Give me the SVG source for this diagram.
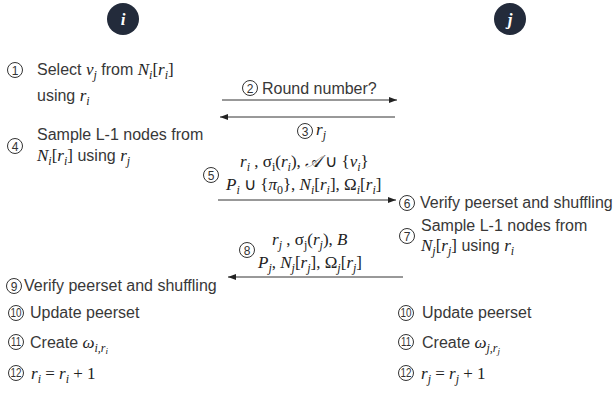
<svg xmlns="http://www.w3.org/2000/svg" width="613" height="394" viewBox="0 0 613 394">
<style>
.t{font-family:"Liberation Sans",Arial,sans-serif;font-size:16px;fill:#383838}
.m{font-family:"Liberation Serif","Times New Roman",serif;font-size:17px;fill:#222}
.mi{font-style:italic}
.s{font-size:12px}
.nc{fill:none;stroke:#333;stroke-width:1}
.nd{font-family:"Liberation Sans",Arial,sans-serif;font-size:12px;fill:#333;text-anchor:middle}
.ln{stroke:#333;stroke-width:1;fill:none}
.actor{fill:#232b3b}
.al{font-family:"Liberation Serif",serif;font-style:italic;font-weight:bold;font-size:17px;fill:#fff;text-anchor:middle}
</style>
<defs>
<marker id="ah" viewBox="0 0 8 6" refX="8" refY="3" markerWidth="8" markerHeight="6" markerUnits="userSpaceOnUse" orient="auto">
<path d="M0,0 L8,3 L0,6 z" fill="#222"/>
</marker>
<g id="num"><circle r="7.5" class="nc"/></g>
</defs>
<rect width="613" height="394" fill="#fff"/>

<g id="actor-i"><circle cx="123" cy="19" r="16" class="actor"/><text x="123" y="25" class="al">i</text></g>
<g id="actor-j"><circle cx="510" cy="19" r="16" class="actor"/><text x="510" y="25" class="al">j</text></g>

<g id="connectors">
<line x1="222" y1="100" x2="397" y2="100" class="ln" stroke="#666" marker-end="url(#ah)"/>
<line x1="395" y1="117" x2="220" y2="117" class="ln" marker-end="url(#ah)"/>
<line x1="218" y1="200" x2="396" y2="200" class="ln" marker-end="url(#ah)"/>
<line x1="403" y1="277" x2="228" y2="277" class="ln" marker-end="url(#ah)"/>
</g>

<g id="step1">
<use href="#num" x="15" y="70"/><text x="15" y="74.5" class="nd">1</text>
<text x="37" y="75" class="t">Select <tspan class="m mi">v<tspan class="s" dy="4">j</tspan></tspan><tspan dy="-4"> from </tspan><tspan class="m mi">N<tspan class="s" dy="4">i</tspan><tspan dy="-4" font-style="normal">[</tspan>r<tspan class="s" dy="4">i</tspan><tspan dy="-4" font-style="normal">]</tspan></tspan></text>
<text x="37" y="101" class="t">using <tspan class="m mi">r<tspan class="s" dy="4">i</tspan></tspan></text>
</g>

<g id="step2">
<use href="#num" x="250" y="88"/><text x="250" y="92.5" class="nd">2</text>
<text x="262" y="94" class="t">Round number?</text>
</g>

<g id="step3">
<use href="#num" x="305" y="131"/><text x="305" y="135.5" class="nd">3</text>
<text x="316" y="135" class="m mi">r<tspan class="s" dy="4">j</tspan></text>
</g>

<g id="step4">
<use href="#num" x="15" y="146"/><text x="15" y="150.5" class="nd">4</text>
<text x="37" y="140" class="t">Sample L-1 nodes from</text>
<text x="37" y="161" class="t"><tspan class="m mi">N<tspan class="s" dy="4">i</tspan><tspan dy="-4" font-style="normal">[</tspan>r<tspan class="s" dy="4">i</tspan><tspan dy="-4" font-style="normal">]</tspan></tspan> using <tspan class="m mi">r<tspan class="s" dy="4">j</tspan></tspan></text>
</g>

<g id="step5">
<use href="#num" x="211" y="175"/><text x="211" y="179.5" class="nd">5</text>
<text x="240" y="167" class="m"><tspan class="mi">r</tspan><tspan class="s mi" dy="4">i</tspan><tspan dy="-4"> , σ</tspan><tspan class="s" dy="4">i</tspan><tspan dy="-4">(</tspan><tspan class="mi">r</tspan><tspan class="s mi" dy="4">i</tspan><tspan dy="-4">), </tspan><tspan class="mi">𝒜</tspan> ∪ {<tspan class="mi">v</tspan><tspan class="s mi" dy="4">i</tspan><tspan dy="-4">}</tspan></text>
<text x="226" y="190" class="m"><tspan class="mi">P</tspan><tspan class="s mi" dy="4">i</tspan><tspan dy="-4"> ∪ {</tspan><tspan class="mi">π</tspan><tspan class="s" dy="4">0</tspan><tspan dy="-4">}, </tspan><tspan class="mi">N</tspan><tspan class="s mi" dy="4">i</tspan><tspan dy="-4">[</tspan><tspan class="mi">r</tspan><tspan class="s mi" dy="4">i</tspan><tspan dy="-4">], Ω</tspan><tspan class="s mi" dy="4">i</tspan><tspan dy="-4">[</tspan><tspan class="mi">r</tspan><tspan class="s mi" dy="4">i</tspan><tspan dy="-4">]</tspan></text>
</g>

<g id="step6">
<use href="#num" x="407" y="203"/><text x="407" y="207.5" class="nd">6</text>
<text x="420" y="208" class="t">Verify peerset and shuffling</text>
</g>

<g id="step7">
<use href="#num" x="407" y="236"/><text x="407" y="240.5" class="nd">7</text>
<text x="421" y="231" class="t">Sample L-1 nodes from</text>
<text x="421" y="251" class="t"><tspan class="m mi">N<tspan class="s" dy="4">j</tspan><tspan dy="-4" font-style="normal">[</tspan>r<tspan class="s" dy="4">j</tspan><tspan dy="-4" font-style="normal">]</tspan></tspan> using <tspan class="m mi">r<tspan class="s" dy="4">i</tspan></tspan></text>
</g>

<g id="step8">
<use href="#num" x="247" y="250"/><text x="247" y="254.5" class="nd">8</text>
<text x="272" y="245" class="m"><tspan class="mi">r</tspan><tspan class="s mi" dy="4">j</tspan><tspan dy="-4"> , σ</tspan><tspan class="s" dy="4">j</tspan><tspan dy="-4">(</tspan><tspan class="mi">r</tspan><tspan class="s mi" dy="4">j</tspan><tspan dy="-4">), </tspan><tspan class="mi">B</tspan></text>
<text x="258" y="268" class="m"><tspan class="mi">P</tspan><tspan class="s mi" dy="4">j</tspan><tspan dy="-4">, </tspan><tspan class="mi">N</tspan><tspan class="s mi" dy="4">j</tspan><tspan dy="-4">[</tspan><tspan class="mi">r</tspan><tspan class="s mi" dy="4">j</tspan><tspan dy="-4">], Ω</tspan><tspan class="s mi" dy="4">j</tspan><tspan dy="-4">[</tspan><tspan class="mi">r</tspan><tspan class="s mi" dy="4">j</tspan><tspan dy="-4">]</tspan></text>
</g>

<g id="step9">
<use href="#num" x="14" y="286"/><text x="14" y="290.5" class="nd">9</text>
<text x="24" y="291" class="t">Verify peerset and shuffling</text>
</g>

<g id="step10-i">
<use href="#num" x="16" y="313"/><text x="16" y="317" class="nd" font-size="11" textLength="11" lengthAdjust="spacingAndGlyphs">10</text>
<text x="30" y="318" class="t">Update peerset</text>
</g>
<g id="step11-i">
<use href="#num" x="16" y="342"/><text x="16" y="346" class="nd" font-size="11" textLength="10" lengthAdjust="spacingAndGlyphs">11</text>
<text x="30" y="348" class="t">Create <tspan class="m mi">ω<tspan class="s" dy="4">i,r</tspan><tspan font-size="9" dy="2">i</tspan></tspan></text>
</g>
<g id="step12-i">
<use href="#num" x="16" y="373"/><text x="16" y="377" class="nd" font-size="11" textLength="11" lengthAdjust="spacingAndGlyphs">12</text>
<text x="31" y="379" class="m"><tspan class="mi">r</tspan><tspan class="s mi" dy="4">i</tspan><tspan dy="-4"> = </tspan><tspan class="mi">r</tspan><tspan class="s mi" dy="4">i</tspan><tspan dy="-4"> + 1</tspan></text>
</g>

<g id="step10-j">
<use href="#num" x="406" y="313"/><text x="406" y="317" class="nd" font-size="11" textLength="11" lengthAdjust="spacingAndGlyphs">10</text>
<text x="422" y="318" class="t">Update peerset</text>
</g>
<g id="step11-j">
<use href="#num" x="406" y="342"/><text x="406" y="346" class="nd" font-size="11" textLength="10" lengthAdjust="spacingAndGlyphs">11</text>
<text x="422" y="348" class="t">Create <tspan class="m mi">ω<tspan class="s" dy="4">j,r</tspan><tspan font-size="9" dy="2">j</tspan></tspan></text>
</g>
<g id="step12-j">
<use href="#num" x="406" y="373"/><text x="406" y="377" class="nd" font-size="11" textLength="11" lengthAdjust="spacingAndGlyphs">12</text>
<text x="421" y="379" class="m"><tspan class="mi">r</tspan><tspan class="s mi" dy="4">j</tspan><tspan dy="-4"> = </tspan><tspan class="mi">r</tspan><tspan class="s mi" dy="4">j</tspan><tspan dy="-4"> + 1</tspan></text>
</g>
</svg>
